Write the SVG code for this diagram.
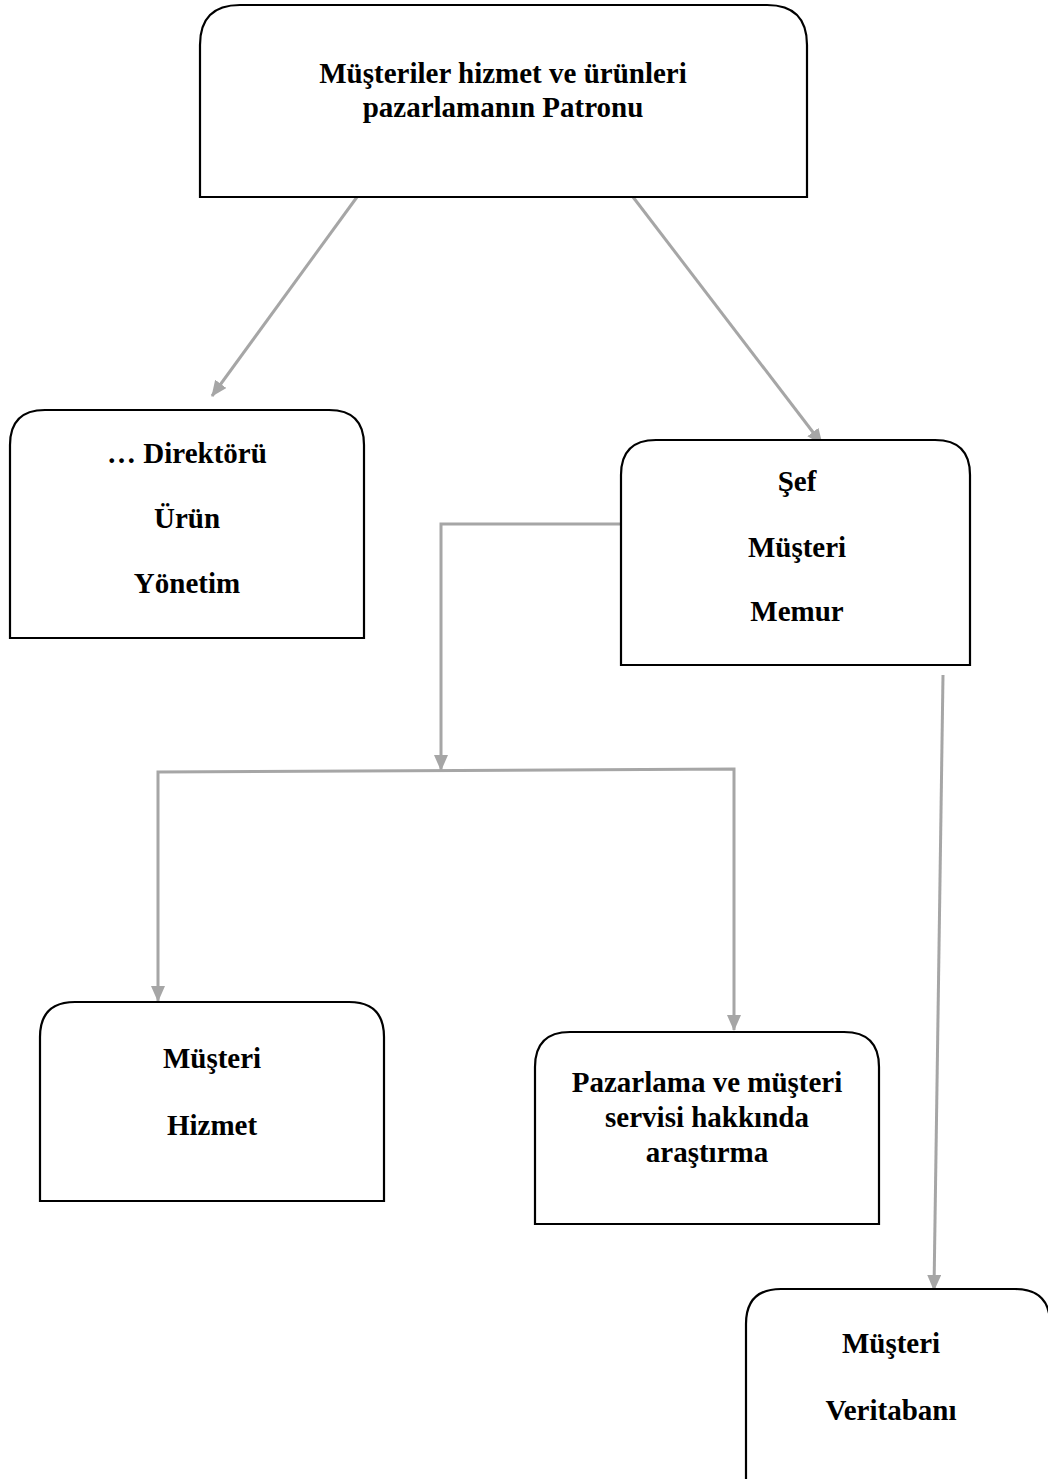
<svg xmlns="http://www.w3.org/2000/svg" width="1048" height="1479" viewBox="0 0 1048 1479">
  <defs>
    <style>
      .box { fill: #ffffff; stroke: #000000; stroke-width: 2.2; }
      .lbl { font-family: "Liberation Serif", "Times New Roman", serif; font-weight: bold; font-size: 29px; fill: #000000; text-anchor: middle; }
      .link { fill: none; stroke: #a6a6a6; stroke-width: 3; }
    </style>
    <marker id="arrow" viewBox="0 0 16 14" refX="15" refY="7" markerWidth="16" markerHeight="14" markerUnits="userSpaceOnUse" orient="auto">
      <path d="M0,0 L16,7 L0,14 Z" fill="#a6a6a6"/>
    </marker>
  </defs>

  <rect width="1048" height="1479" fill="#ffffff"/>

  <!-- connectors -->
  <g id="connectors">
    <line class="link" x1="357" y1="197" x2="212" y2="396" marker-end="url(#arrow)"/>
    <line class="link" x1="633" y1="197" x2="822" y2="444" marker-end="url(#arrow)"/>
    <polyline class="link" points="621,524 441,524 441,770" marker-end="url(#arrow)"/>
    <polyline class="link" points="158,988 158,772 734,769 734,1017" />
    <line class="link" x1="158" y1="986" x2="158" y2="1001" marker-end="url(#arrow)"/>
    <line class="link" x1="734" y1="1015" x2="734" y2="1030" marker-end="url(#arrow)"/>
    <line class="link" x1="943" y1="675" x2="934" y2="1290" marker-end="url(#arrow)"/>
  </g>

  <!-- top node -->
  <g id="node-patron">
    <path class="box" d="M200,197 L200,45 Q200,5 240,5 L767,5 Q807,5 807,45 L807,197 Z"/>
    <text class="lbl" x="503" y="83">Müşteriler hizmet ve ürünleri</text>
    <text class="lbl" x="503" y="117">pazarlamanın Patronu</text>
  </g>

  <g id="node-direktor">
    <path class="box" d="M10,638 L10,445 Q10,410 45,410 L329,410 Q364,410 364,445 L364,638 Z"/>
    <text class="lbl" x="187" y="463">… Direktörü</text>
    <text class="lbl" x="187" y="528">Ürün</text>
    <text class="lbl" x="187" y="593">Yönetim</text>
  </g>

  <g id="node-sef">
    <path class="box" d="M621,665 L621,475 Q621,440 656,440 L935,440 Q970,440 970,475 L970,665 Z"/>
    <text class="lbl" x="797" y="491">Şef</text>
    <text class="lbl" x="797" y="557">Müşteri</text>
    <text class="lbl" x="797" y="621">Memur</text>
  </g>

  <g id="node-hizmet">
    <path class="box" d="M40,1201 L40,1037 Q40,1002 75,1002 L349,1002 Q384,1002 384,1037 L384,1201 Z"/>
    <text class="lbl" x="212" y="1068">Müşteri</text>
    <text class="lbl" x="212" y="1135">Hizmet</text>
  </g>

  <g id="node-arastirma">
    <path class="box" d="M535,1224 L535,1067 Q535,1032 570,1032 L844,1032 Q879,1032 879,1067 L879,1224 Z"/>
    <text class="lbl" x="707" y="1092">Pazarlama ve müşteri</text>
    <text class="lbl" x="707" y="1127">servisi hakkında</text>
    <text class="lbl" x="707" y="1162">araştırma</text>
  </g>

  <g id="node-veritabani">
    <path class="box" d="M746,1479 L746,1324 Q746,1289 781,1289 L1015,1289 Q1050,1289 1050,1324 L1050,1479"/>
    <text class="lbl" x="891" y="1353">Müşteri</text>
    <text class="lbl" x="891" y="1420">Veritabanı</text>
  </g>
</svg>
